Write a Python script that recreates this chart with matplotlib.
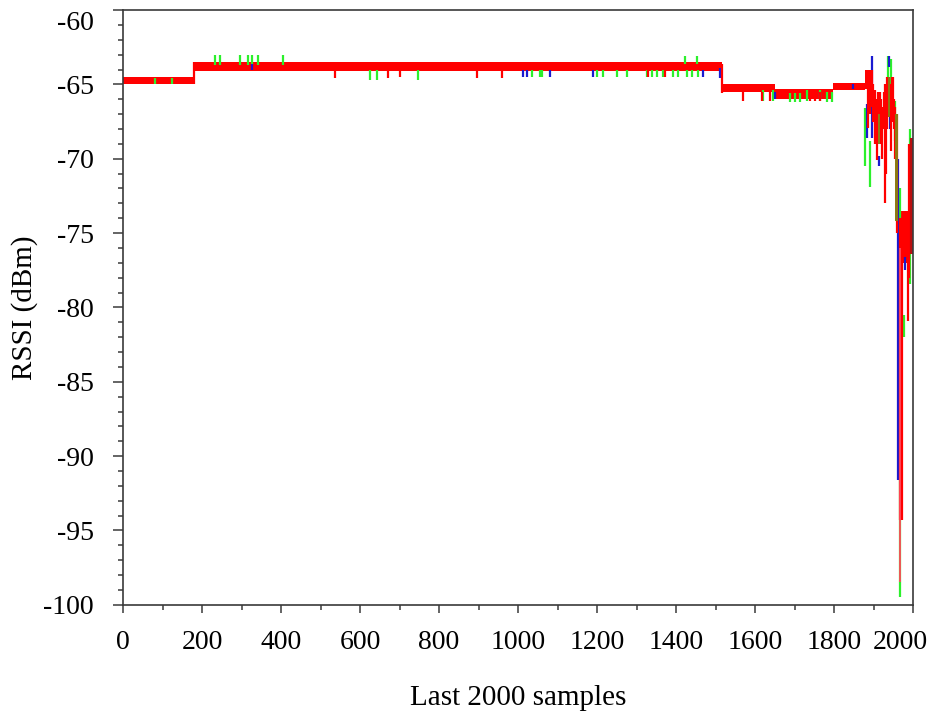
import matplotlib
matplotlib.use("Agg")
import matplotlib.pyplot as plt
import numpy as np

plt.rcParams['font.family'] = ['Liberation Serif', 'DejaVu Serif']
plt.rcParams['axes.unicode_minus'] = False

# dense part of the red trace, read as envelope blocks: start, end, low, high
band_start = [0, 180, 1517, 1650, 1797, 1878, 1967]
band_end = [180, 1517, 1650, 1797, 1878, 1891, 1992]
band_low = [-65.0, -64.1, -65.5, -66.0, -65.4, -65.3, -77.0]
band_high = [-64.5, -63.5, -65.0, -65.3, -64.9, -64.0, -73.5]

# single samples leaving the band: sample, low, high
green_x = [81, 124, 233, 245, 296, 316, 327, 342, 405, 625, 643, 747,
           1035, 1056, 1061, 1200, 1215, 1250, 1276, 1326, 1340, 1352, 1367,
           1392, 1405, 1423, 1428, 1440, 1452, 1455,
           1620, 1646, 1689, 1700, 1714, 1732, 1765, 1782, 1795,
           1878, 1891, 1937, 1944, 1955, 1966, 1977, 1993]
green_lo = [-65.0, -65.0, -63.7, -63.7, -63.7, -63.7, -63.7, -63.7, -63.7, -64.7, -64.7, -64.7,
            -64.5, -64.5, -64.5, -64.5, -64.5, -64.5, -64.5, -64.5, -64.5, -64.5, -64.5,
            -64.5, -64.5, -63.6, -64.5, -64.5, -63.6, -64.5,
            -66.1, -66.1, -66.2, -66.2, -66.2, -66.1, -66.1, -66.2, -66.2,
            -70.5, -71.9, -67.2, -66.0, -68.8, -99.5, -82.0, -78.4]
green_hi = [-64.6, -64.6, -63.0, -63.0, -63.0, -63.0, -63.0, -63.0, -63.0, -64.0, -64.0, -64.0,
            -64.0, -64.0, -64.0, -64.0, -64.0, -64.0, -64.0, -64.0, -64.0, -64.0, -64.0,
            -64.0, -64.0, -63.1, -64.0, -64.0, -63.1, -64.0,
            -65.4, -65.4, -65.6, -65.6, -65.6, -65.4, -65.4, -65.5, -65.5,
            -66.6, -68.8, -63.1, -63.3, -66.1, -72.0, -80.5, -68.0]

blue_x = [327, 1013, 1023, 1081, 1190, 1468, 1511, 1651, 1765, 1848,
          1884, 1896, 1913, 1939, 1942, 1963, 1980]
blue_lo = [-64.0, -64.5, -64.5, -64.5, -64.5, -64.5, -64.6, -66.0, -66.0, -65.3,
           -68.6, -68.6, -70.5, -63.8, -68.0, -91.6, -77.5]
blue_hi = [-63.6, -64.0, -64.0, -64.0, -64.0, -64.0, -63.9, -65.5, -65.5, -65.0,
           -66.3, -63.1, -69.8, -63.1, -66.5, -70.0, -76.6]

red_x = [180, 537, 671, 701, 896, 959, 1330, 1372, 1517,
         1570, 1617, 1638, 1739, 1752, 1765,
         1886, 1890, 1895, 1899, 1904, 1909, 1912, 1916, 1920, 1922, 1926, 1929,
         1932, 1934, 1937, 1940, 1943, 1945, 1948, 1950, 1952,
         1954, 1959, 1968, 1971, 1987, 1990]
red_lo = [-65.0, -64.6, -64.6, -64.5, -64.6, -64.6, -64.5, -64.5, -65.6,
          -66.1, -66.1, -66.1, -66.1, -66.1, -66.1,
          -67.9, -67.0, -66.5, -67.5, -69.0, -70.1, -67.0, -68.0, -69.0, -70.0, -68.0, -73.0,
          -71.0, -68.0, -66.5, -67.2, -69.5, -67.2, -67.5, -66.5, -68.0,
          -70.0, -75.0, -94.3, -94.3, -80.9, -78.0]
red_hi = [-63.5, -64.0, -64.0, -64.0, -64.0, -64.0, -64.0, -64.0, -63.6,
          -65.5, -65.5, -65.5, -65.5, -65.5, -65.5,
          -64.0, -64.0, -64.0, -65.0, -65.4, -66.0, -65.5, -65.5, -66.0, -66.5, -65.5, -65.0,
          -66.0, -64.5, -64.5, -64.5, -65.5, -65.0, -64.5, -64.5, -66.0,
          -66.5, -67.0, -74.0, -74.0, -74.0, -69.0]

# lighter / mixed tones seen in the noisy tail
pink_x = [1966]
pink_lo = [-98.5]
pink_hi = [-76.0]
olive_x = [1913, 1940, 1957, 1960]
olive_lo = [-69.0, -67.2, -74.2, -74.2]
olive_hi = [-67.0, -64.5, -67.0, -67.0]
dark_x = [1997]
dark_lo = [-76.4]
dark_hi = [-68.6]

fig = plt.figure(figsize=(9.35, 7.2), dpi=100)
ax = fig.add_axes([0.1316, 0.160, 0.8449, 0.826])

for x0, x1, lo, hi in zip(band_start, band_end, band_low, band_high):
    ax.fill_between([x0, x1], [lo, lo], [hi, hi], color='#ff0000', linewidth=0)

lw = 1.6
ax.vlines(green_x, green_lo, green_hi, color='#2cf02c', linewidth=lw)
ax.vlines(blue_x, blue_lo, blue_hi, color='#1a1ad0', linewidth=lw)
ax.vlines(red_x, red_lo, red_hi, color='#ff0000', linewidth=lw)
ax.vlines(pink_x, pink_lo, pink_hi, color='#ff4a5a', linewidth=1.3)
ax.vlines(olive_x, olive_lo, olive_hi, color='#8c7a12', linewidth=1.4)
ax.vlines(dark_x, dark_lo, dark_hi, color='#b81010', linewidth=3.0)

ax.set_xlim(0, 2000)
ax.set_ylim(-100, -60)

xt = np.arange(0, 2001, 200)
ax.set_xticks(xt)
ax.set_xticklabels([str(v) if v != 2000 else '' for v in xt])
ax.set_xticks(np.arange(0, 2001, 100), minor=True)
yt = np.arange(-100, -59, 5)
ax.set_yticks(yt)
ax.set_yticklabels([str(v) if v != -60 else '' for v in yt])
ax.set_yticks(np.arange(-100, -59, 1), minor=True)

spine_c = '#3a3a3a'
for s in ax.spines.values():
    s.set_color(spine_c)
    s.set_linewidth(1.2)
ax.tick_params(axis='both', which='both', direction='out', color=spine_c,
               width=1.1, labelsize=20, labelcolor='black')
ax.tick_params(axis='x', which='major', length=6, pad=12)
ax.tick_params(axis='x', which='minor', length=3.5)
ax.tick_params(axis='y', which='major', length=7, pad=14)
ax.tick_params(axis='y', which='minor', length=3.5)

# end labels sit a little inside the frame in the original
ax.annotate('-60', xy=(0, -60), xycoords=('axes fraction', 'data'),
            xytext=(-21, -10), textcoords='offset points',
            ha='right', va='center', fontsize=20)
ax.annotate('2000', xy=(2000, 0), xycoords=('data', 'axes fraction'),
            xytext=(-9.5, -18), textcoords='offset points',
            ha='center', va='top', fontsize=20)

ax.set_xlabel('Last 2000 samples', fontsize=21, labelpad=22)
ax.set_ylabel('RSSI (dBm)', fontsize=21, labelpad=4)

fig.savefig('out.png', dpi=100)
